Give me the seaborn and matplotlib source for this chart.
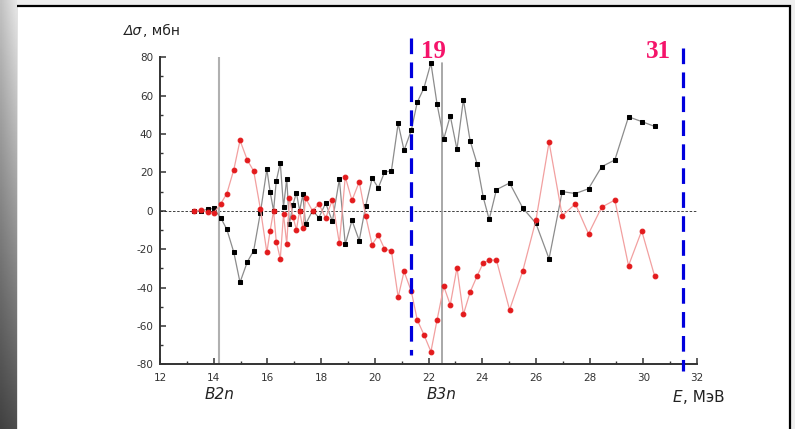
import numpy as np
import pandas as pd
import matplotlib
matplotlib.use("Agg")
import matplotlib.pyplot as plt
from matplotlib.patches import Rectangle
from matplotlib.ticker import MultipleLocator
import seaborn as sns

# ---- data ----
energy = [13.28, 13.53, 13.77, 14.0, 14.26, 14.49, 14.75, 14.98, 15.25, 15.49,
          15.74, 15.98, 16.1, 16.23, 16.33, 16.48, 16.6, 16.72, 16.82, 16.95,
          17.08, 17.2, 17.32, 17.42, 17.68, 17.92, 18.17, 18.42, 18.68, 18.9,
          19.15, 19.42, 19.66, 19.9, 20.13, 20.36, 20.62, 20.87, 21.09, 21.36,
          21.58, 21.83, 22.09, 22.32, 22.57, 22.81, 23.06, 23.3, 23.55, 23.81,
          24.04, 24.26, 24.53, 25.02, 25.51, 26.0, 26.49, 26.98, 27.47, 27.96,
          28.45, 28.94, 29.45, 29.94, 30.42]
black_vals = [0, -0.2, 0.9, 1.2, -3.6, -9.7, -21.7, -37.3, -26.7, -20.7,
              -0.9, 21.7, 10, 0, 15.5, 25, 2, 16.7, -7, 3,
              9.5, 0, 8.5, -7, 0, -3.5, 4, -5.5, 16.5, -17.5,
              -5, -15.5, 2.5, 17, 12, 20, 21, 45.5, 31.5, 42,
              56.5, 64, 77, 55.5, 37.5, 49.5, 32, 58, 36.5, 24.5,
              7, -4.5, 11, 14.5, 1.5, -6.5, -25, 10, 9, 11.5,
              23, 26.5, 49, 46.5, 44]
red_vals = [0, 0.3, -0.8, -1.2, 3.6, 9, 21.5, 36.7, 26.5, 20.7,
            0.9, -21.7, -10.5, 0, -16, -25, -1.7, -17.4, 6.9, -3,
            -9.9, 0, -9.2, 6.6, 0, 3.6, -3.8, 5.7, -17, 17.7,
            5.4, 15.1, -2.6, -17.7, -12.7, -19.8, -21, -45, -31.6, -42,
            -56.8, -64.6, -73.4, -56.8, -39.4, -49, -29.7, -54, -42.4, -34,
            -27.1, -25.7, -25.7, -51.6, -31.4, -5, 35.8, -2.6, 3.6, -12,
            1.9, 5.6, -28.6, -10.4, -33.9]
thresholds = [14.2, 22.5]
threshold_labels = ["B2n", "B3n"]
range_lines = [21.36, 31.49]
range_labels = ["19", "31"]
x_ticks = [12, 14, 16, 18, 20, 22, 24, 26, 28, 30, 32]
y_ticks = [-80, -60, -40, -20, 0, 20, 40, 60, 80]

df_black = pd.DataFrame({"E": energy, "d": black_vals})
df_red = pd.DataFrame({"E": energy, "d": red_vals})

sns.set_style("ticks")
plt.rcParams["font.family"] = ["DejaVu Sans"]
plt.rcParams["axes.unicode_minus"] = False

W, H = 795, 429
fig = plt.figure(figsize=(W / 100, H / 100), dpi=100)
fig.patch.set_facecolor("#eeeeee")

# left gradient strip
gax = fig.add_axes([0, 0, 17 / W, 1])
grad = np.linspace(0.9, 0.3, 256)[:, None] * np.ones((1, 8))
grad = grad * np.linspace(0.85, 1.0, 8)[None, :]
gax.imshow(grad, cmap="gray", vmin=0, vmax=1, aspect="auto", extent=[0, 1, 0, 1])
gax.axis("off")
gax.set_zorder(0)

# white panel with black border (behind the plot axes)
panel = Rectangle((16 / W, -0.05), (790 - 16) / W, (H - 6) / H + 0.05,
                  transform=fig.transFigure, facecolor="white", edgecolor="black",
                  linewidth=1.6, zorder=-1)
fig.patches.append(panel)

left = 160 / W
bottom = (H - 364.3) / H
ax = fig.add_axes([left, bottom, (697 - 160) / W, (364.3 - 57.3) / H])
ax.set_facecolor("none")
ax.set_zorder(5)

ax.axhline(0, color="#222222", lw=0.6, ls=(0, (3, 2)), zorder=1)
ax.axvline(thresholds[0], ymin=0, ymax=1, color="#b0b0b0", lw=1.5, zorder=1)
ax.plot([thresholds[1], thresholds[1]], [-80, 77], color="#999999", lw=1.2, zorder=1)

sns.lineplot(data=df_black, x="E", y="d", ax=ax, color="#8c8c8c", lw=0.9,
             marker="s", markersize=3.2, markerfacecolor="black",
             markeredgecolor="black", zorder=3)
sns.lineplot(data=df_red, x="E", y="d", ax=ax, color="#f2a0a0", lw=0.9,
             marker="o", markersize=3.4, markerfacecolor="#e31a1c",
             markeredgecolor="#e31a1c", zorder=3)

ax.plot([range_lines[0]] * 2, [90, -75], color="#0000dd", lw=2.3,
        ls=(0, (4.9, 2.6)), clip_on=False, zorder=4)
ax.plot([range_lines[1]] * 2, [85, -83.5], color="#0000dd", lw=2.3,
        ls=(0, (4.9, 2.6)), clip_on=False, zorder=4)

ax.set_xlim(12, 32)
ax.set_ylim(-80, 80)
ax.set_xticks(x_ticks)
ax.set_yticks(y_ticks)
ax.xaxis.set_minor_locator(MultipleLocator(1))
ax.yaxis.set_minor_locator(MultipleLocator(10))
ax.tick_params(which="both", direction="in", colors="#333333", labelcolor="#333333",
               labelsize=7.5)
ax.tick_params(which="major", length=4, width=1.1)
ax.tick_params(which="minor", length=2.5, width=1.0)
ax.tick_params(axis="x", pad=6)
ax.tick_params(axis="y", pad=5)
for s in ["top", "right"]:
    ax.spines[s].set_visible(False)
for s in ["left", "bottom"]:
    ax.spines[s].set_color("#333333")
    ax.spines[s].set_linewidth(1.4)
ax.set_xlabel("")
ax.set_ylabel("")

def px(xp, yp):
    return xp / W, 1 - yp / H

renderer = fig.canvas.get_renderer()

def two_part(x0, y0, first, rest, size):
    t1 = fig.text(*px(x0, y0), first, fontstyle="italic", fontsize=size,
                  color="#222222", ha="left", va="center")
    bb = t1.get_window_extent(renderer=renderer)
    fig.text(bb.x1 / W + 0.5 / W, 1 - y0 / H, rest, fontsize=size,
             color="#222222", ha="left", va="center")

# axis titles
two_part(124, 31, "Δσ", ", мбн", 10)
two_part(673, 397, "E", ", МэВ", 11)

for xv, lab in zip(thresholds, threshold_labels):
    ax.text(xv, -95.5, lab, fontstyle="italic", fontsize=11, color="#222222",
            ha="center", va="center", clip_on=False)

lab_x = [22.2, 30.55]
for xv, lab in zip(lab_x, range_labels):
    ax.text(xv, 83.2, lab, fontsize=18, fontweight="bold",
            family=["Liberation Serif", "DejaVu Serif"], color="#f5146a",
            ha="center", va="center", clip_on=False)

fig.savefig("out.png", dpi=100, facecolor=fig.get_facecolor())
